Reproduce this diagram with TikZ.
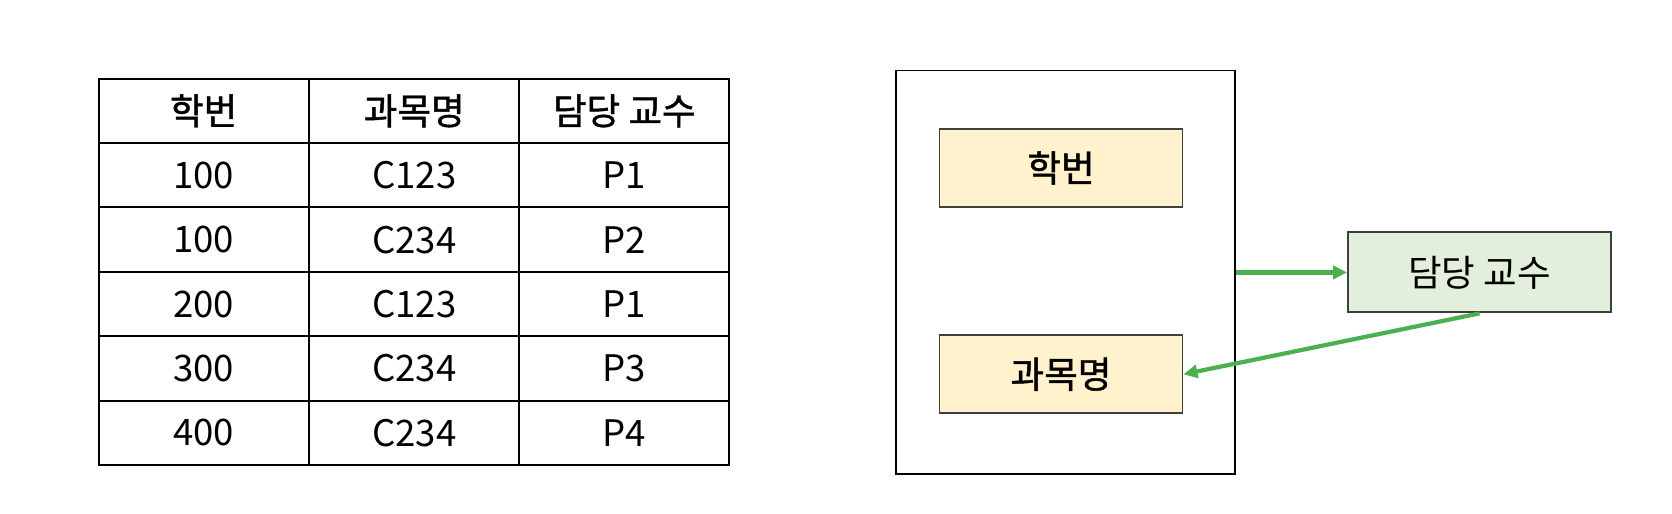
\documentclass[tikz,border=0pt]{standalone}
\usepackage{fontspec}
\setmainfont{Noto Sans CJK KR}
\newfontfamily\hdfont{Noto Sans CJK KR}[FakeBold=1.3]
\usepackage{tikz}
\usepackage{xcolor}
\usetikzlibrary{arrows.meta}

\definecolor{attryellow}{RGB}{255,242,204}
\definecolor{depgreen}{RGB}{226,239,218}
\definecolor{arrowgreen}{RGB}{76,175,80}

\begin{document}
\begin{tikzpicture}[x=0.010663cm,y=-0.010663cm]
			%\draw[help lines] (0,0) grid (1568,482);
			\useasboundingbox (0,0) rectangle (1568,482);
			
			\tikzset{
			cell/.style = {draw=black, line width=0.55pt, minimum width=2.10cm, minimum height=0.645cm, inner sep=0pt, font=\fontsize{10.4pt}{12pt}\selectfont},
			head/.style = {cell, font=\fontsize{10.4pt}{12pt}\selectfont\hdfont},
			outer/.style = {draw=black, line width=0.55pt, minimum width=3.39cm, minimum height=4.04cm, inner sep=0pt},
			attr/.style = {draw=black!75, fill=attryellow, line width=0.55pt, minimum width=2.43cm, minimum height=0.78cm, inner sep=0pt, font=\fontsize{10.4pt}{12pt}\selectfont\hdfont},
			dep/.style = {draw=black!75, fill=depgreen, line width=0.55pt, minimum width=2.63cm, minimum height=0.80cm, inner sep=0pt, font=\fontsize{10.4pt}{12pt}\selectfont},
			fd/.style = {draw=arrowgreen, line width=1.2pt, -{Triangle[length=1.4mm,width=1.3mm]}}
			}
			
			% table
			\node[head] (h1) at (191,104) {학번};
			\node[head] (h2) at (388.5,104) {과목명};
			\node[head] (h3) at (585.5,104) {담당 교수};
			
			\foreach \sid/\course/\prof [count=\r] in {100/C123/P1, 100/C234/P2, 200/C123/P1, 300/C234/P3, 400/C234/P4}{
				\node[cell] (r\r-1) at (191,104+60.4*\r) {\sid};
				\node[cell] (r\r-2) at (388.5,104+60.4*\r) {\course};
				\node[cell] (r\r-3) at (585.5,104+60.4*\r) {\prof};
			}
			
			% dependency
			\node[outer] (key) at (999,255.5) {};
			\node[attr] (hakbun) at (995,157.5) {학번};
			\node[attr] (gwamok) at (995,351) {과목명};
			\node[dep] (prof) at (1387.5,255.5) {담당 교수};
			
			\draw[fd] (key.east) -- (prof.west);
			\draw[fd] (prof.south) -- (gwamok.east);
			
\end{tikzpicture}
\end{document}
